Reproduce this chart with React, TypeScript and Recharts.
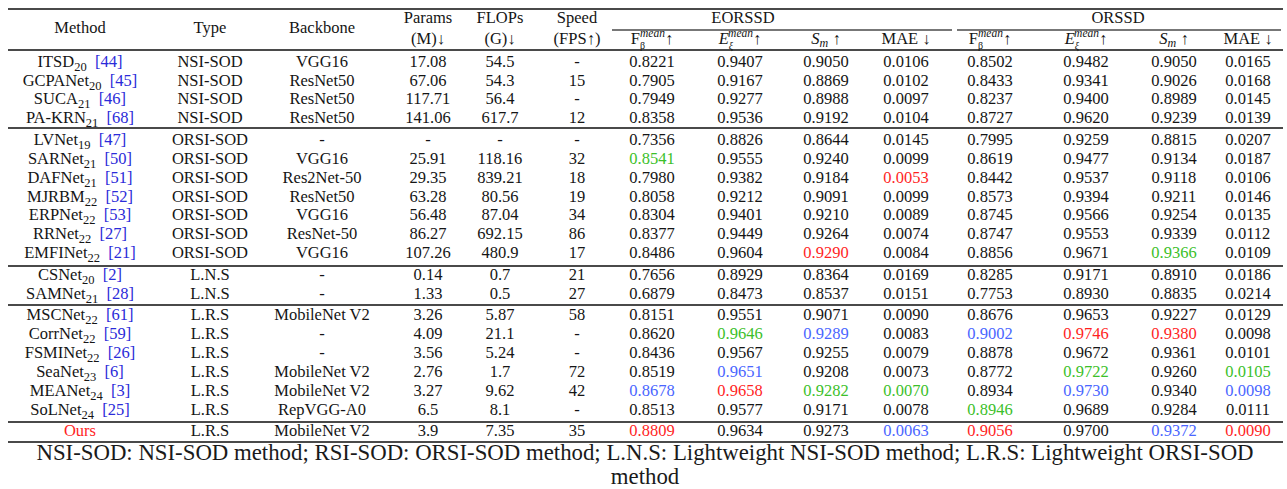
import React from 'react'
import { ScatterChart, Scatter, XAxis, YAxis, ReferenceLine } from 'recharts'

const methods = ['ITSD', 'GCPANet', 'SUCA', 'PA-KRN', 'LVNet', 'SARNet', 'DAFNet', 'MJRBM', 'ERPNet', 'RRNet', 'EMFINet', 'CSNet', 'SAMNet', 'MSCNet', 'CorrNet', 'FSMINet', 'SeaNet', 'MEANet', 'SoLNet', 'Ours']
const years = ['20', '20', '21', '21', '19', '21', '21', '22', '22', '22', '22', '20', '21', '22', '22', '22', '23', '24', '24', '']
const refs = ['44', '45', '46', '68', '47', '50', '51', '52', '53', '27', '21', '2', '28', '61', '59', '26', '6', '3', '25', '']
const types = ['NSI-SOD', 'NSI-SOD', 'NSI-SOD', 'NSI-SOD', 'ORSI-SOD', 'ORSI-SOD', 'ORSI-SOD', 'ORSI-SOD', 'ORSI-SOD', 'ORSI-SOD', 'ORSI-SOD', 'L.N.S', 'L.N.S', 'L.R.S', 'L.R.S', 'L.R.S', 'L.R.S', 'L.R.S', 'L.R.S', 'L.R.S']
const backbones = ['VGG16', 'ResNet50', 'ResNet50', 'ResNet50', '-', 'VGG16', 'Res2Net-50', 'ResNet50', 'VGG16', 'ResNet-50', 'VGG16', '-', '-', 'MobileNet V2', '-', '-', 'MobileNet V2', 'MobileNet V2', 'RepVGG-A0', 'MobileNet V2']
const params = ['17.08', '67.06', '117.71', '141.06', '-', '25.91', '29.35', '63.28', '56.48', '86.27', '107.26', '0.14', '1.33', '3.26', '4.09', '3.56', '2.76', '3.27', '6.5', '3.9']
const flops = ['54.5', '54.3', '56.4', '617.7', '-', '118.16', '839.21', '80.56', '87.04', '692.15', '480.9', '0.7', '0.5', '5.87', '21.1', '5.24', '1.7', '9.62', '8.1', '7.35']
const speed = ['-', '15', '-', '12', '-', '32', '18', '19', '34', '86', '17', '21', '27', '58', '-', '-', '72', '42', '-', '35']

// EORSSD
const eFb = [0.8221, 0.7905, 0.7949, 0.8358, 0.7356, 0.8541, 0.798, 0.8058, 0.8304, 0.8377, 0.8486, 0.7656, 0.6879, 0.8151, 0.862, 0.8436, 0.8519, 0.8678, 0.8513, 0.8809]
const eEx = [0.9407, 0.9167, 0.9277, 0.9536, 0.8826, 0.9555, 0.9382, 0.9212, 0.9401, 0.9449, 0.9604, 0.8929, 0.8473, 0.9551, 0.9646, 0.9567, 0.9651, 0.9658, 0.9577, 0.9634]
const eSm = [0.905, 0.8869, 0.8988, 0.9192, 0.8644, 0.924, 0.9184, 0.9091, 0.921, 0.9264, 0.929, 0.8364, 0.8537, 0.9071, 0.9289, 0.9255, 0.9208, 0.9282, 0.9171, 0.9273]
const eMae = [0.0106, 0.0102, 0.0097, 0.0104, 0.0145, 0.0099, 0.0053, 0.0099, 0.0089, 0.0074, 0.0084, 0.0169, 0.0151, 0.009, 0.0083, 0.0079, 0.0073, 0.007, 0.0078, 0.0063]
// ORSSD
const oFb = [0.8502, 0.8433, 0.8237, 0.8727, 0.7995, 0.8619, 0.8442, 0.8573, 0.8745, 0.8747, 0.8856, 0.8285, 0.7753, 0.8676, 0.9002, 0.8878, 0.8772, 0.8934, 0.8946, 0.9056]
const oEx = [0.9482, 0.9341, 0.94, 0.962, 0.9259, 0.9477, 0.9537, 0.9394, 0.9566, 0.9553, 0.9671, 0.9171, 0.893, 0.9653, 0.9746, 0.9672, 0.9722, 0.973, 0.9689, 0.97]
const oSm = [0.905, 0.9026, 0.8989, 0.9239, 0.8815, 0.9134, 0.9118, 0.9211, 0.9254, 0.9339, 0.9366, 0.891, 0.8835, 0.9227, 0.938, 0.9361, 0.926, 0.934, 0.9284, 0.9372]
const oMae = [0.0165, 0.0168, 0.0145, 0.0139, 0.0207, 0.0187, 0.0106, 0.0146, 0.0135, 0.0112, 0.0109, 0.0186, 0.0214, 0.0129, 0.0098, 0.0101, 0.0105, 0.0098, 0.0111, 0.009]

// row index of the 1st (red), 2nd (blue), 3rd (green) entry per metric column
const best1 = [19, 17, 10, 6, 19, 14, 14, 19]
const best2 = [17, 16, 14, 19, 14, 17, 19, 17]
const best3 = [5, 14, 17, 17, 18, 16, 10, 16]

const footnote1 = 'NSI-SOD: NSI-SOD method; RSI-SOD: ORSI-SOD method; L.N.S: Lightweight NSI-SOD method; L.R.S: Lightweight ORSI-SOD'
const footnote2 = 'method'

// layout
const W = 1287
const H = 489
const ROW0 = 61
const STEP = 18.9
const GROUP_GAP = 2.6
const groupStarts = [4, 11, 13, 19]
const toRow = (px: number) => (px - ROW0) / STEP
const rowPos = (r: number) => r + (groupStarts.filter((g) => r >= g).length * GROUP_GAP) / STEP
const FONT = 'Liberation Serif, Times New Roman, DejaVu Serif, serif'
const FS = 16.5
const INK = '#151515'
const RED = '#ff1f1f'
const BLUE = '#4a66ff'
const GREEN = '#3cbf2a'
const REF = '#2b2bd9'
const colX = [80, 210, 322, 428, 500, 577]
const metricX = [652, 740, 826, 906, 990, 1086, 1174, 1248]
const rules = [9, 50, 128, 266, 305, 422, 442]

type Part = { t: string; color?: string; italic?: boolean; shift?: number; fs?: number; dx?: number }
type Cell = { id: string; x: number; y: number; parts: Part[]; fs?: number; color?: string }

const cells: Cell[] = []
const add = (x: number, y: number, parts: Part[], extra: Partial<Cell> = {}) =>
  cells.push({ id: `c${cells.length}`, x, y, parts, ...extra })
const plain = (x: number, y: number, t: string, extra: Partial<Cell> = {}) => add(x, y, [{ t }], extra)

// header
const hTop = toRow(17)
const hBot = toRow(38)
const hMid = toRow(27)
plain(colX[0], hMid, 'Method')
plain(colX[1], hMid, 'Type')
plain(colX[2], hMid, 'Backbone')
plain(colX[3], hTop, 'Params')
plain(colX[3], hBot, '(M)\u2193')
plain(colX[4], hTop, 'FLOPs')
plain(colX[4], hBot, '(G)\u2193')
plain(colX[5], hTop, 'Speed')
plain(colX[5], hBot, '(FPS\u2191)')
plain(743, hTop, 'EORSSD')
plain(1118, hTop, 'ORSSD')

const metricHeads: Part[][] = [
  [{ t: 'F' }, { t: '\u03b2', fs: 10, shift: 5.5 }, { t: 'mean', fs: 11.5, italic: true, shift: -7, dx: -5 }, { t: '\u2191', shift: 0 }],
  [{ t: 'E', italic: true }, { t: '\u03be', fs: 10, shift: 5.5, italic: true }, { t: 'mean', fs: 11.5, italic: true, shift: -7, dx: -5 }, { t: '\u2191', shift: 0 }],
  [{ t: 'S', italic: true }, { t: 'm', fs: 12, shift: 3, italic: true }, { t: '\u00a0\u2191', shift: 0 }],
  [{ t: 'MAE' }, { t: '\u00a0\u2193', color: INK }],
]
metricX.forEach((x, i) => add(x, hBot, metricHeads[i % 4]))

// body
const metricCols = [eFb, eEx, eSm, eMae, oFb, oEx, oSm, oMae]
methods.forEach((m, i) => {
  const r = rowPos(i)
  const name: Part[] = [{ t: m, color: m === 'Ours' ? RED : undefined }]
  if (years[i]) name.push({ t: years[i], fs: 12.5, shift: 4 })
  if (refs[i]) name.push({ t: `\u00a0 [${refs[i]}]`, color: REF, shift: 0 })
  add(colX[0], r, name)
  plain(colX[1], r, types[i])
  plain(colX[2], r, backbones[i])
  plain(colX[3], r, params[i])
  plain(colX[4], r, flops[i])
  plain(colX[5], r, speed[i])
  metricCols.forEach((col, c) => {
    const color = best1[c] === i ? RED : best2[c] === i ? BLUE : best3[c] === i ? GREEN : undefined
    add(metricX[c], r, [{ t: col[i].toFixed(4), color }])
  })
})

// footnote
plain(645, toRow(452), footnote1, { fs: 22.8, color: '#1a1a1a' })
plain(645, toRow(476), footnote2, { fs: 22.8, color: '#1a1a1a' })

function CellShape(props: any) {
  const { cx, cy, payload } = props
  const c: Cell = payload
  const fs = c.fs ?? FS
  const base = c.color ?? INK
  let cur = 0
  return (
    <text
      key={c.id}
      x={cx}
      y={cy + fs * 0.34}
      textAnchor="middle"
      style={{ fontFamily: FONT, fontSize: fs }}
      fill={base}
    >
      {c.parts.map((p, i) => {
        const s = p.shift ?? cur
        const dy = s - cur
        cur = s
        return (
          <tspan
            key={`${c.id}-${i}`}
            dy={dy || undefined}
            dx={p.dx}
            fill={p.color ?? base}
            style={{ fontStyle: p.italic ? 'italic' : 'normal', fontSize: p.fs ?? fs }}
          >
            {p.t}
          </tspan>
        )
      })}
    </text>
  )
}

export default function App() {
  return (
    <div style={{ position: 'absolute', left: 0, top: 0, width: W, height: H, background: '#fff' }}>
      <ScatterChart width={W} height={H} margin={{ top: 0, right: 0, bottom: 0, left: 0 }}>
        <XAxis type="number" dataKey="x" domain={[0, W]} hide />
        <YAxis type="number" dataKey="y" domain={[toRow(0), toRow(H)]} reversed hide />
        {rules.map((px) => (
          <ReferenceLine
            key={px}
            segment={[{ x: 8, y: toRow(px) }, { x: 1283, y: toRow(px) }]}
            stroke="#4a4a4a"
            strokeWidth={2}
          />
        ))}
        <ReferenceLine segment={[{ x: 612, y: toRow(30) }, { x: 952, y: toRow(30) }]} stroke="#4a4a4a" strokeWidth={1.5} />
        <ReferenceLine segment={[{ x: 957, y: toRow(30) }, { x: 1281, y: toRow(30) }]} stroke="#4a4a4a" strokeWidth={1.5} />
        <Scatter data={cells} shape={CellShape} isAnimationActive={false} />
      </ScatterChart>
    </div>
  )
}
